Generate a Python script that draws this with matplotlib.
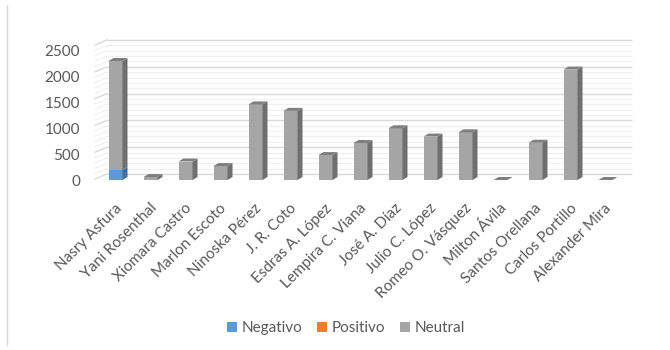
import matplotlib
matplotlib.use("Agg")
import matplotlib.pyplot as plt
from matplotlib.patches import Polygon, Patch
from matplotlib.lines import Line2D
from matplotlib.transforms import offset_copy
import numpy as np

plt.rcParams['font.family'] = ['Lato', 'DejaVu Sans']

categories = ["Nasry Asfura", "Yani Rosenthal", "Xiomara Castro", "Marlon Escoto",
              "Ninoska Pérez", "J. R. Coto", "Esdras A. López", "Lempira C. Viana",
              "José A. Díaz", "Julio C. López", "Romeo O. Vásquez", "Milton Ávila",
              "Santos Orellana", "Carlos Portillo", "Alexander Mira"]
negativo = [190, 0, 0, 0, 0, 0, 0, 0, 0, 0, 0, 0, 0, 0, 0]
positivo = [0, 0, 0, 0, 0, 0, 0, 0, 0, 0, 0, 0, 0, 0, 0]
neutral = [2030, 55, 345, 260, 1410, 1290, 465, 690, 965, 810, 890, 0, 695, 2060, 0]
y_ticks = [0, 500, 1000, 1500, 2000, 2500]

series = [("Negativo", negativo, "#5B9BD5", "#41719C", "#4A86BE"),
          ("Positivo", positivo, "#ED7D31", "#AE5A21", "#C9692A"),
          ("Neutral", neutral, "#A5A5A5", "#6F6F6F", "#7F7F7F")]

W, H = 670, 350
fig = plt.figure(figsize=(W / 100, H / 100), dpi=100)
ax = fig.add_axes([98 / W, (H - 180) / H, 525 / W, 134 / H])
ax.set_xlim(-0.5, 14.5)
ax.set_ylim(0, 2500)
ax.axis("off")

text_color = "#595959"

# back wall gridlines (offset right/up)
back = offset_copy(ax.transData, fig=fig, x=9, y=6, units="dots")
for v in range(0, 2501, 100):
    major = v % 500 == 0
    col = "#D9D9D9" if major else "#EFEFEF"
    ax.plot([-0.5, 14.5], [v, v], transform=back, color=col, lw=1.0 if major else 0.8,
            zorder=0, clip_on=False, solid_capstyle="butt")
    # side wall diagonal lines
    p = ax.transData.transform((-0.5, v))
    fig.add_artist(Line2D([(p[0] - 3) / W, (p[0] + 9) / W], [(p[1] + 1) / H, (p[1] + 6) / H],
                          color=col, lw=1.0 if major else 0.8, zorder=0))

# bars with 3D faces
w = 0.4
dx, dy = 5, 3
x = np.arange(len(categories))
bottom = np.zeros(len(categories))
topcolor = [None] * len(categories)
for name, vals, front, side, top in series:
    vals = np.array(vals, dtype=float)
    ax.bar(x, vals, width=w, bottom=bottom, color=front, zorder=3, linewidth=0)
    for i in range(len(x)):
        if vals[i] <= 0:
            continue
        b, t = bottom[i], bottom[i] + vals[i]
        A = ax.transData.transform((x[i] + w / 2, b))
        B = ax.transData.transform((x[i] + w / 2, t))
        pts = np.array([A, B, B + [dx, dy], A + [dx, dy]])
        pts[:, 0] /= W
        pts[:, 1] /= H
        fig.add_artist(Polygon(pts, closed=True, facecolor=side, edgecolor="none", zorder=4))
        topcolor[i] = top
    bottom = bottom + vals
for i in range(len(x)):
    t = bottom[i]
    col = topcolor[i] or "#7F7F7F"
    E = ax.transData.transform((x[i] - w / 2, t))
    F = ax.transData.transform((x[i] + w / 2, t))
    pts = np.array([E, F, F + [dx, dy], E + [dx, dy]])
    pts[:, 0] /= W
    pts[:, 1] /= H
    fig.add_artist(Polygon(pts, closed=True, facecolor=col, edgecolor="none", zorder=4))

# y labels
for v in y_ticks:
    tr = offset_copy(ax.get_yaxis_transform(), fig=fig, x=-18, y=-(2 + 4 * v / 2500), units="dots")
    ax.text(0, v, str(v), transform=tr, ha="right", va="center", fontsize=11, color=text_color)

# x labels
xtr = offset_copy(ax.transData, fig=fig, x=4, y=-26, units="dots")
for i, c in enumerate(categories):
    ax.text(i, 0, c, transform=xtr, rotation=45, ha="right", va="center",
            rotation_mode="anchor", fontsize=11, color=text_color)

# legend
handles = [Patch(facecolor=s[2], edgecolor="none", label=s[0]) for s in series]
leg = fig.legend(handles=handles, loc="center", bbox_to_anchor=(346 / W, 1 - 328 / H), ncol=3,
                 frameon=False, fontsize=11, handlelength=0.65, handleheight=0.65,
                 handletextpad=0.3, columnspacing=1.0)
for t in leg.get_texts():
    t.set_color(text_color)

# chart border (left)
fig.add_artist(Line2D([7 / W, 7 / W], [5 / H, 345 / H], color="#D9D9D9", lw=1))

fig.savefig("out.png", dpi=100)
